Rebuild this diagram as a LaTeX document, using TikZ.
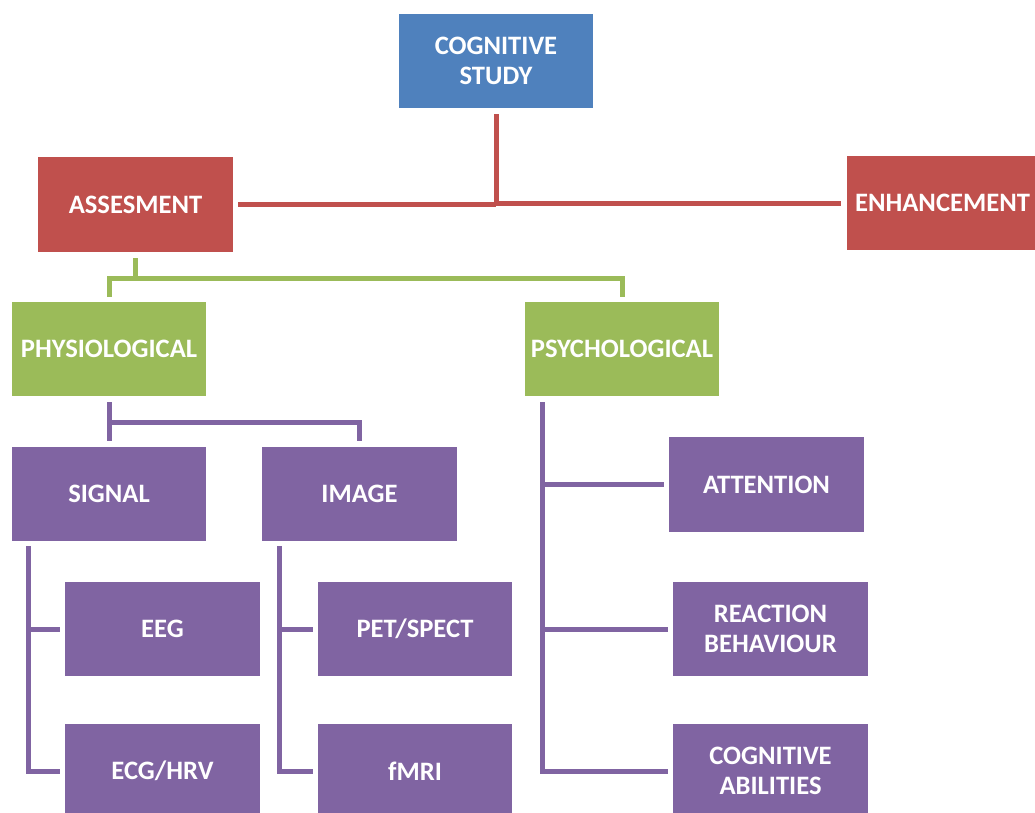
\documentclass[tikz,border=0pt]{standalone}
\usepackage{fontspec}
\setmainfont{Carlito}
\definecolor{cblue}{HTML}{4F81BD}
\definecolor{cred}{HTML}{C0504D}
\definecolor{cgreen}{HTML}{9BBB59}
\definecolor{cpurple}{HTML}{8064A2}
\tikzset{
  box/.style={rectangle, inner sep=0pt, text=white, align=center,
    font=\bfseries\fontsize{26.6}{30}\selectfont},
  bluebox/.style={box, fill=cblue},
  redbox/.style={box, fill=cred},
  greenbox/.style={box, fill=cgreen},
  purplebox/.style={box, fill=cpurple},
  redline/.style={draw=cred, line width=5pt},
  greenline/.style={draw=cgreen, line width=5pt},
  purpleline/.style={draw=cpurple, line width=5pt},
}
\begin{document}
\begin{tikzpicture}[x=1pt, y=-1pt]
\useasboundingbox (0,0) rectangle (1035,813);
\clip (0,0) rectangle (1035,813);

% top level
\node[bluebox, minimum width=194pt, minimum height=94pt] (cs) at (496,61) {COGNITIVE\\STUDY};
\node[redbox, minimum width=195pt, minimum height=95pt] (as) at (135.5,204.5) {ASSESMENT};
\node[redbox, minimum width=188pt, minimum height=94pt] (en) at (941,203) {\hspace*{3pt}ENHANCEMENT};

% assessment branches
\node[greenbox, minimum width=194pt, minimum height=94pt] (ph) at (109,349) {PHYSIOLOGICAL};
\node[greenbox, minimum width=194pt, minimum height=94pt] (ps) at (622,349) {PSYCHOLOGICAL};

% physiological branches
\node[purplebox, minimum width=194pt, minimum height=94pt] (sig) at (109,494) {SIGNAL};
\node[purplebox, minimum width=195pt, minimum height=94pt] (img) at (359.5,494) {IMAGE};
\node[purplebox, minimum width=195pt, minimum height=94pt] (eeg) at (162.5,629) {EEG};
\node[purplebox, minimum width=195pt, minimum height=94pt] (ecg) at (162.5,771) {ECG/HRV};
\node[purplebox, minimum width=194pt, minimum height=94pt] (pet) at (415,629) {PET/SPECT};
\node[purplebox, minimum width=194pt, minimum height=94pt] (fmri) at (415,771) {fMRI};

% psychological branches
\node[purplebox, minimum width=195pt, minimum height=95pt] (att) at (766.5,484.5) {ATTENTION};
\node[purplebox, minimum width=195pt, minimum height=94pt] (rb) at (770.5,629) {REACTION\\BEHAVIOUR};
\node[purplebox, minimum width=195pt, minimum height=94pt] (ca) at (770.5,771) {COGNITIVE\\ABILITIES};

% junction rows
\coordinate (gj) at (0,278);
\coordinate (pj) at (0,422);

% cognitive study -> assessment / enhancement
\draw[redline] ([yshift=-6pt]cs.south) -- (cs.south |- en.west);
\draw[redline] ([xshift=5pt]as.east) -- (cs.south |- as.east);
\draw[redline] (cs.south |- en.west) -- ([xshift=-6pt]en.west);

% assessment -> physiological / psychological
\draw[greenline] ([yshift=-6pt]as.south) -- (as.south |- gj);
\draw[greenline] ([yshift=5pt]ph.north) -- (ph.north |- gj) -- (ps.north |- gj) -- ([yshift=5pt]ps.north);

% physiological -> signal / image
\draw[purpleline] ([yshift=-6pt]ph.south) -- ([yshift=6pt]sig.north);
\draw[purpleline] (ph.south |- pj) -- (img.north |- pj) -- ([yshift=6pt]img.north);

% signal -> EEG / ECG
\draw[purpleline] ([xshift=17pt,yshift=-5pt]sig.south west) coordinate (sv) |- ([xshift=-5pt]ecg.west);
\draw[purpleline] (sv |- eeg.west) -- ([xshift=-5pt]eeg.west);

% image -> PET / fMRI
\draw[purpleline] ([xshift=18pt,yshift=-5pt]img.south west) coordinate (iv) |- ([xshift=-5pt]fmri.west);
\draw[purpleline] (iv |- pet.west) -- ([xshift=-5pt]pet.west);

% psychological -> attention / reaction / abilities
\draw[purpleline] ([xshift=17.5pt,yshift=-6pt]ps.south west) coordinate (pv) |- ([xshift=-5pt]ca.west);
\draw[purpleline] (pv |- att.west) -- ([xshift=-5pt]att.west);
\draw[purpleline] (pv |- rb.west) -- ([xshift=-5pt]rb.west);
\end{tikzpicture}
\end{document}
